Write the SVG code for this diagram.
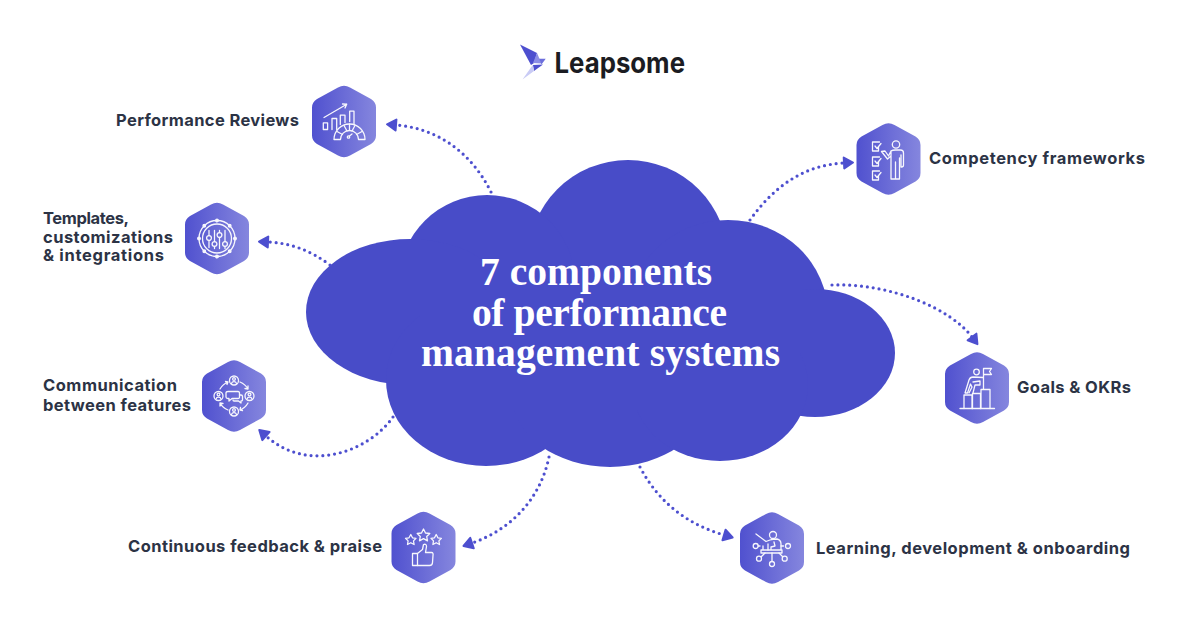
<svg xmlns="http://www.w3.org/2000/svg" xmlns:xlink="http://www.w3.org/1999/xlink" width="1200" height="628" viewBox="0 0 1200 628">
<style>
.lbl{font-family:"Inter","Liberation Sans",sans-serif;font-weight:700;font-size:16.5px;fill:#2C3345}
.ttl{font-family:"Liberation Serif",serif;font-weight:700;font-size:39.5px;fill:#fff}
.conn{fill:none;stroke:#4D4FCF;stroke-width:3.2;stroke-linecap:round;stroke-dasharray:0 5.9;marker-end:url(#ah)}
.ic{fill:none;stroke:#fff;stroke-width:1.3;stroke-linecap:round;stroke-linejoin:round;opacity:.95}
.cl{fill:#484CC8}
</style>
<defs>
<linearGradient id="hg" x1="0" y1="0" x2="1" y2="0"><stop offset="0" stop-color="#5051CF"/><stop offset="1" stop-color="#8586DE"/></linearGradient>
<path id="hex" fill="url(#hg)" d="M-6,-34 Q0,-37.5 6,-34 L27,-22.5 Q32,-19.5 32,-14 L32,14 Q32,19.5 27,22.5 L6,34 Q0,37.5 -6,34 L-27,22.5 Q-32,19.5 -32,14 L-32,-14 Q-32,-19.5 -27,-22.5 Z"/>
<marker id="ah" markerUnits="userSpaceOnUse" markerWidth="14" markerHeight="16" refX="1" refY="7" orient="auto" overflow="visible"><path d="M1,1.5 L10,7 L1,12.5 Z" fill="#4D4FCF" stroke="#4D4FCF" stroke-width="2" stroke-linejoin="round"/></marker>
</defs>
<rect width="1200" height="628" fill="#fff"/>

<g id="logo">
<polygon points="520,44.5 537,53 534,63 531,65" fill="#4D4FCF"/>
<polygon points="537,53 541.5,63.5 533,63" fill="#8C8EE6"/>
<polygon points="545.7,58.7 541.5,64.5 539,58.7" fill="#6C6EDC"/>
<polygon points="533,65 543,64.5 534,71" fill="#4D4FCF"/>
<polygon points="522.5,79.5 532.7,65 534,71" fill="#C9CBF5"/>
<text x="554.5" y="73" style="font-family:Inter,'Liberation Sans',sans-serif;font-weight:700;font-size:28.5px;fill:#1B1C22" textLength="130.5" lengthAdjust="spacingAndGlyphs">Leapsome</text>
</g>

<g id="cloud">
<circle class="cl" cx="628" cy="260" r="100"/>
<ellipse class="cl" cx="487" cy="283" rx="88" ry="88"/>
<ellipse class="cl" cx="410" cy="312" rx="104" ry="73"/>
<ellipse class="cl" cx="728" cy="315" rx="100" ry="95"/>
<ellipse class="cl" cx="815" cy="353" rx="80" ry="64"/>
<ellipse class="cl" cx="486" cy="380" rx="100" ry="86"/>
<ellipse class="cl" cx="610" cy="395" rx="98" ry="72"/>
<ellipse class="cl" cx="720" cy="385" rx="88" ry="76"/>
<rect class="cl" x="420" y="260" width="380" height="150"/>
</g>
<g id="title">
<text class="ttl" x="480" y="285" textLength="232">7 components</text>
<text class="ttl" x="472" y="325.5" textLength="255">of performance</text>
<text class="ttl" x="421" y="366" textLength="359">management systems</text>
</g>

<g id="connectors">
<path class="conn" d="M491,192 C470,150 435,128 396,125"/>
<path class="conn" d="M330,265 C310,250 290,243 268,242"/>
<path class="conn" d="M393,417 C370,450 310,475 266,436"/>
<path class="conn" d="M549,457 C540,500 510,530 472,543"/>
<path class="conn" d="M640,467 C660,505 690,525 724,535"/>
<path class="conn" d="M832,285 C890,283 950,308 972,337"/>
<path class="conn" d="M750,220 C775,185 805,165 844,163"/>
</g>

<g id="node-performance-reviews">
<use xlink:href="#hex" href="#hex" x="344" y="121.5"/>
<g class="ic" transform="translate(344,121.5)">
<rect x="-20.7" y="1.3" width="4.3" height="6.7"/>
<path d="M-12,8 V-3 H-7.3 V8 M-3.7,3 V-6.3 H1 V1 M5.7,0 V-10.3 H10 V3"/>
<path d="M-20,-4 L2.7,-17.3 M-1.5,-17.5 L2.7,-17.3 L1,-13.5"/>
<path d="M-10,18 A15.5,15.5 0 0 1 21,18 H14.5 A9,9 0 0 0 -3.5,18 Z"/>
<path d="M-7,10 L-1.5,13 M0,4 L3,9.5 M5.5,2.5 V8.5 M11,4 L8,9.5 M18,10 L12.5,13"/>
<circle cx="4.5" cy="15.5" r="1.2"/><path d="M5.5,14.5 L8,12.5"/>
</g>
<text class="lbl" x="116" y="126" textLength="183">Performance Reviews</text>
</g>

<g id="node-templates">
<use xlink:href="#hex" href="#hex" x="217" y="238.5"/>
<g class="ic" transform="translate(217,238.5)">
<circle r="14.5"/>
<circle r="18"/>
<g fill="#fff"><circle cx="18" cy="0" r="1.3"/><circle cx="12.7" cy="12.7" r="1.3"/><circle cx="0" cy="18" r="1.3"/><circle cx="-12.7" cy="12.7" r="1.3"/><circle cx="-18" cy="0" r="1.3"/><circle cx="-12.7" cy="-12.7" r="1.3"/><circle cx="0" cy="-18" r="1.3"/><circle cx="12.7" cy="-12.7" r="1.3"/></g>
<path d="M-8,-8 V-3 M-8,2 V9 M-2.5,-8 V3 M-2.5,8 V10 M2.5,-8 V-6 M2.5,-1 V10 M8,-8 V3 M8,8 V10"/>
<circle cx="-8" cy="-0.5" r="2.4"/><circle cx="-2.5" cy="5.5" r="2.4"/><circle cx="2.5" cy="-3.5" r="2.4"/><circle cx="8" cy="5.5" r="2.4"/>
</g>
<g class="lbl">
<text x="43" y="224" textLength="86">Templates,</text>
<text x="43" y="243" textLength="130">customizations</text>
<text x="43" y="261" textLength="121">&amp; integrations</text>
</g>
</g>

<g id="node-communication">
<use xlink:href="#hex" href="#hex" x="234" y="396"/>
<g class="ic" transform="translate(234,396)">
<circle cx="0" cy="-15.5" r="4.5"/><circle cx="0" cy="-17" r="1.4"/><path d="M-2.5,-12.5 A2.6,2.6 0 0 1 2.5,-12.5"/>
<circle cx="15.5" cy="0" r="4.5"/><circle cx="15.5" cy="-1.5" r="1.4"/><path d="M13,3 A2.6,2.6 0 0 1 18,3"/>
<circle cx="0" cy="15.5" r="4.5"/><circle cx="0" cy="14" r="1.4"/><path d="M-2.5,18.5 A2.6,2.6 0 0 1 2.5,18.5"/>
<circle cx="-15.5" cy="0" r="4.5"/><circle cx="-15.5" cy="-1.5" r="1.4"/><path d="M-18,3 A2.6,2.6 0 0 1 -13,3"/>
<path d="M-14,-7 A16,16 0 0 1 -6,-14 M-8.5,-14.5 L-6,-14 L-7,-11.5"/>
<path d="M6,-14 A16,16 0 0 1 14,-7 M14,-10 L14,-7 L11,-7.5"/>
<path d="M14,7 A16,16 0 0 1 6,14 M6.5,11.5 L6,14 L8.5,14.5"/>
<path d="M-6,14 A16,16 0 0 1 -14,7 M-14,10 L-14,7 L-11,7.5"/>
<path d="M-6,-4.5 H4 Q5.5,-4.5 5.5,-3 V1 Q5.5,2.5 4,2.5 H-2 L-5,5 V2.5 H-6 Q-8,2.5 -8,1 V-3 Q-8,-4.5 -6,-4.5 Z"/>
<path d="M5.5,-1 H7 Q8.5,-1 8.5,0.5 V4 Q8.5,5 7,5 V7 L4.5,5 H0 Q-1,5 -1,4"/>
</g>
<g class="lbl">
<text x="43" y="391" textLength="134">Communication</text>
<text x="43" y="411" textLength="148">between features</text>
</g>
</g>

<g id="node-continuous-feedback">
<use xlink:href="#hex" href="#hex" x="423.5" y="547.5"/>
<g class="ic" transform="translate(423.5,547.5)">
<path d="M0,-18.5 L2,-14.5 L6.3,-14 L3.2,-11 L4,-6.7 L0,-8.8 L-4,-6.7 L-3.2,-11 L-6.3,-14 L-2,-14.5 Z"/>
<path d="M-12.7,-13 L-11,-9.7 L-7.5,-9.2 L-10,-6.6 L-9.4,-3 L-12.7,-4.8 L-16,-3 L-15.4,-6.6 L-18,-9.2 L-14.5,-9.7 Z"/>
<path d="M12.7,-13 L14.4,-9.7 L17.9,-9.2 L15.4,-6.6 L16,-3 L12.7,-4.8 L9.4,-3 L10,-6.6 L7.5,-9.2 L11,-9.7 Z"/>
<path d="M-11,6 H-6 V18 H-11 Z"/>
<path d="M-6,6 L-1,2 L0,-3 Q3,-4 3,-1 L2,5 H8 Q10,5 9.5,8 L9,15 Q9,18 6,18 H-6"/>
</g>
<text class="lbl" x="128" y="552" textLength="254">Continuous feedback &amp; praise</text>
</g>

<g id="node-learning">
<use xlink:href="#hex" href="#hex" x="772" y="548"/>
<g class="ic" transform="translate(772,548)">
<circle cx="1" cy="-13" r="3.5"/>
<path d="M-16,-14 L-6,-6.5 L-2,-8 Q1,-9 5,-9 Q9,-8 9,-4 V2 H-1 L-1,-1 L3,-2 L2,-6 M-9,-2 V2 M-11,2 H10 V5 H-11 Z"/>
<path d="M-4,-4 V2 M-12,-2 H-14 M9,-2 H11.5 M0,5 V13 M-7,5 L-10.5,8.5 M7,5 L10.5,8.5"/>
<circle cx="-16.3" cy="-2" r="2.5"/><circle cx="16" cy="-2" r="2.5"/><circle cx="-13" cy="10.7" r="2.5"/><circle cx="12.7" cy="10.7" r="2.5"/><circle cx="0" cy="16" r="2.5"/>
</g>
<text class="lbl" x="816" y="554" textLength="314">Learning, development &amp; onboarding</text>
</g>

<g id="node-goals">
<use xlink:href="#hex" href="#hex" x="977" y="388"/>
<g class="ic" transform="translate(977,388)">
<path d="M-17,20.5 H17.5"/>
<path d="M-13,20.5 V7 H-5 V20.5 M-4.5,20.5 V5.5 H3.5 V20.5 M4,20.5 V1.5 H13 V20.5"/>
<circle cx="-0.5" cy="-16" r="2.8"/>
<path d="M6.5,1 V-19.5 M6.5,-19.5 H14.5 L12.5,-16.5 L14.5,-13.5 H6.5"/>
<path d="M6,-10.5 L-4,-11 Q-7,-11 -8,-8 L-12,5 H-9.5 L-6.5,-4 L-5,-1 L-8,5 M-4,-6 L3,-7 L3,-3 L-2,-3 L-3,1 L-4,5"/>
</g>
<text class="lbl" x="1017" y="393" textLength="114">Goals &amp; OKRs</text>
</g>

<g id="node-competency">
<use xlink:href="#hex" href="#hex" x="888.5" y="159"/>
<g class="ic" transform="translate(888.5,159)">
<path d="M-10,-12 V-8 H-16 V-17 H-9 M-13.5,-13 L-11.5,-10.5 L-7.5,-15.5"/>
<path d="M-10,3 V7 H-16 V-2 H-9 M-13.5,2 L-11.5,4.5 L-7.5,-0.5"/>
<path d="M-10,17 V21 H-16 V12 H-9 M-13.5,16 L-11.5,18.5 L-7.5,13.5"/>
<circle cx="7.5" cy="-14.5" r="3.7"/>
<path d="M-7,-7.5 L-3.5,-8 L0,-3 L2.5,-8 Q4,-9 7,-9 H12 Q15,-9 15,-6 V6 Q15,8 13,8 M2.5,-8 V20 H7 V3 M7,3 V20 H11 V-1 M12.5,-4 V8 M-7,-7.5 L-1,0 L2.5,-3"/>
</g>
<text class="lbl" x="929" y="164" textLength="216">Competency frameworks</text>
</g>
</svg>
